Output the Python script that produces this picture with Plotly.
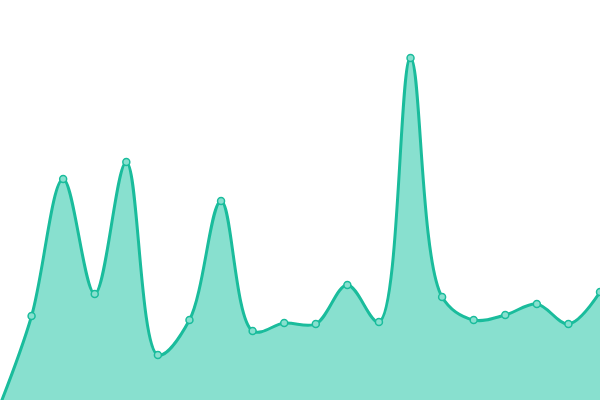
import plotly.graph_objs as go

# Data
x_index = list(range(20))
values = [-5, 84, 221, 106, 238, 45, 80, 199, 69, 77, 76, 115, 78, 342, 103, 80, 85, 96, 76, 108]

line_color = '#1abc9c'
fill_color = '#88e0cf'

fig = go.Figure()
fig.add_trace(go.Scatter(
    x=x_index, y=values, mode='lines+markers',
    line=dict(color=line_color, width=3, shape='spline', smoothing=1),
    fill='tozeroy', fillcolor=fill_color,
    marker=dict(size=7, color=fill_color, line=dict(color=line_color, width=1.5)),
    hoverinfo='skip', showlegend=False,
))

fig.update_layout(
    width=600, height=400,
    margin=dict(l=0, r=0, t=0, b=0),
    paper_bgcolor='white', plot_bgcolor='white',
    xaxis=dict(range=[0, 19], visible=False),
    yaxis=dict(range=[0, 400], visible=False),
)

# drop the default page margin so the chart sits at the window corner
fig.write_html("out.html", config={'displayModeBar': False},
               post_script="document.body.style.margin='0';document.body.style.overflow='hidden';")
